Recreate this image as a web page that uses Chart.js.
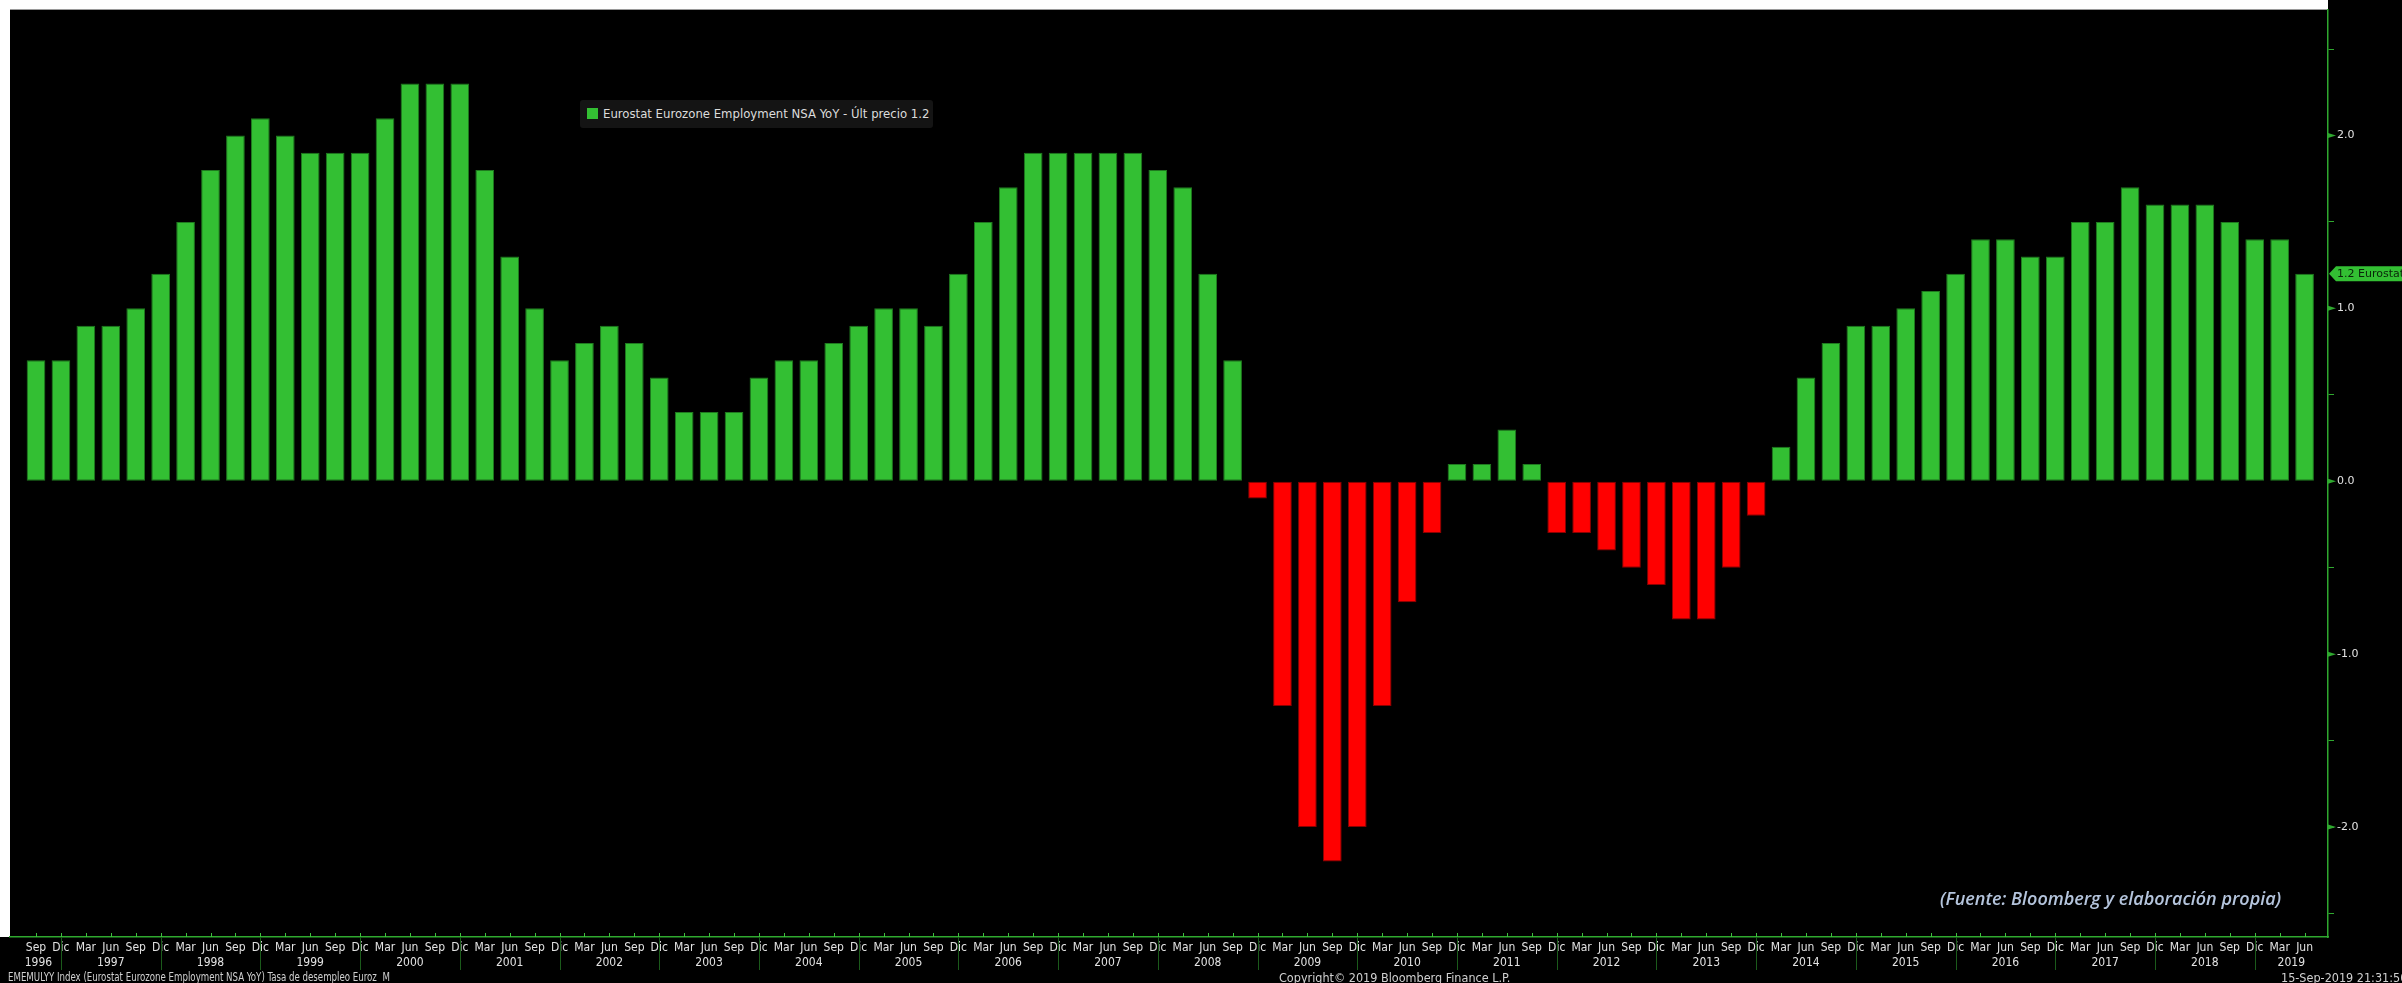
<!DOCTYPE html>
<html>
<head>
<meta charset="utf-8">
<script src="https://cdn.jsdelivr.net/npm/chart.js@4.4.1/dist/chart.umd.min.js"></script>
<style>
    html, body { margin: 0; padding: 0; background: #000; overflow: hidden; }
    #wrap { position: relative; width: 2402px; height: 983px; }
    #chart { position: absolute; left: 0; top: 0; }
    .narrow { font-family: "Liberation Sans Narrow", "DejaVu Sans Condensed", "Liberation Sans", sans-serif; }
    #legend {
        position: absolute; left: 580px; top: 100px; width: 353px; height: 28px;
        background: #141414; border-radius: 3px; color: #dcdcdc; font-size: 13px;
        line-height: 28px; white-space: nowrap;
    }
    #legend i { display: inline-block; width: 11px; height: 11px; background: #33bf33;
        margin: 0 5px 0 7px; vertical-align: -1px; }
    #source {
        position: absolute; left: 1940px; top: 886px; color: #b4c4dc;
        font: italic 600 18px "Open Sans", "Noto Sans", sans-serif; white-space: nowrap;
    }
    .foot { position: absolute; top: 970px; font-size: 12px; color: #d0d0d0; white-space: nowrap; }
    #ticker { transform: scaleX(0.8); transform-origin: left center; }
</style>
</head>
<body>
<div id="wrap">
    <canvas id="chart" width="2402" height="983"></canvas>
    <div id="legend" class="narrow"><i></i>Eurostat Eurozone Employment NSA YoY - Últ precio 1.2</div>
    <div id="source">(Fuente: Bloomberg y elaboración propia)</div>
    <div id="ticker" class="foot narrow" style="left:8px">EMEMULYY Index (Eurostat Eurozone Employment NSA YoY) Tasa de desempleo Euroz&nbsp; M</div>
    <div class="foot narrow" style="left:1279px; font-size:12.5px">Copyright© 2019 Bloomberg Finance L.P.</div>
    <div class="foot narrow" style="left:2281px; font-size:12.5px">15-Sep-2019 21:31:50</div>
</div>
<script>
// quarterly observations, Sep 1996 .. Jun 2019
const categories = [
    "Sep 1996", "Dic 1996",
    "Mar 1997", "Jun 1997", "Sep 1997", "Dic 1997",
    "Mar 1998", "Jun 1998", "Sep 1998", "Dic 1998",
    "Mar 1999", "Jun 1999", "Sep 1999", "Dic 1999",
    "Mar 2000", "Jun 2000", "Sep 2000", "Dic 2000",
    "Mar 2001", "Jun 2001", "Sep 2001", "Dic 2001",
    "Mar 2002", "Jun 2002", "Sep 2002", "Dic 2002",
    "Mar 2003", "Jun 2003", "Sep 2003", "Dic 2003",
    "Mar 2004", "Jun 2004", "Sep 2004", "Dic 2004",
    "Mar 2005", "Jun 2005", "Sep 2005", "Dic 2005",
    "Mar 2006", "Jun 2006", "Sep 2006", "Dic 2006",
    "Mar 2007", "Jun 2007", "Sep 2007", "Dic 2007",
    "Mar 2008", "Jun 2008", "Sep 2008", "Dic 2008",
    "Mar 2009", "Jun 2009", "Sep 2009", "Dic 2009",
    "Mar 2010", "Jun 2010", "Sep 2010", "Dic 2010",
    "Mar 2011", "Jun 2011", "Sep 2011", "Dic 2011",
    "Mar 2012", "Jun 2012", "Sep 2012", "Dic 2012",
    "Mar 2013", "Jun 2013", "Sep 2013", "Dic 2013",
    "Mar 2014", "Jun 2014", "Sep 2014", "Dic 2014",
    "Mar 2015", "Jun 2015", "Sep 2015", "Dic 2015",
    "Mar 2016", "Jun 2016", "Sep 2016", "Dic 2016",
    "Mar 2017", "Jun 2017", "Sep 2017", "Dic 2017",
    "Mar 2018", "Jun 2018", "Sep 2018", "Dic 2018",
    "Mar 2019", "Jun 2019",
];

const employmentYoY = [
    0.7, 0.7,
    0.9, 0.9, 1.0, 1.2,
    1.5, 1.8, 2.0, 2.1,
    2.0, 1.9, 1.9, 1.9,
    2.1, 2.3, 2.3, 2.3,
    1.8, 1.3, 1.0, 0.7,
    0.8, 0.9, 0.8, 0.6,
    0.4, 0.4, 0.4, 0.6,
    0.7, 0.7, 0.8, 0.9,
    1.0, 1.0, 0.9, 1.2,
    1.5, 1.7, 1.9, 1.9,
    1.9, 1.9, 1.9, 1.8,
    1.7, 1.2, 0.7, -0.1,
    -1.3, -2.0, -2.2, -2.0,
    -1.3, -0.7, -0.3, 0.1,
    0.1, 0.3, 0.1, -0.3,
    -0.3, -0.4, -0.5, -0.6,
    -0.8, -0.8, -0.5, -0.2,
    0.2, 0.6, 0.8, 0.9,
    0.9, 1.0, 1.1, 1.2,
    1.4, 1.4, 1.3, 1.3,
    1.5, 1.5, 1.7, 1.6,
    1.6, 1.6, 1.5, 1.4,
    1.4, 1.2,
];

const seriesName = "Eurostat";

const GREEN = "#33bf33";
const GREEN_EDGE = "#1f7a1f";
const RED = "#ff0000";
const RED_EDGE = "#8a0000";
const AXIS_GREEN = "#2fa82f";
const SEP_GREEN = "#1b5a1b";
const LABEL = "#e2e2e2";
const NARROW = '"Liberation Sans Narrow", "DejaVu Sans Condensed", "Liberation Sans", sans-serif';

const monthOf = (i) => (categories[i] || "").split(" ")[0];
const yearOf = (i) => (categories[i] || "").split(" ")[1];

// background, axis decorations, year row and last-value tag
const bloombergFrame = {
    id: "bloombergFrame",
    beforeDraw(chart) {
        const { ctx, chartArea: a, width, height } = chart;
        ctx.save();
        ctx.fillStyle = "#000";
        ctx.fillRect(0, 0, width, height);
        ctx.fillStyle = "#fff";
        ctx.fillRect(0, 0, a.right, a.top);
        ctx.fillRect(0, 0, a.left, a.bottom);
        ctx.restore();
    },
    afterDraw(chart) {
        const { ctx, chartArea: a, scales } = chart;
        const x = scales.x;
        const y = scales.y;
        ctx.save();

        // small ticks above the bottom axis
        ctx.strokeStyle = "#3fc03f";
        ctx.lineWidth = 1;
        categories.forEach((c, i) => {
            const px = Math.round(x.getPixelForValue(i)) + 0.5;
            ctx.beginPath();
            ctx.moveTo(px, a.bottom - 4);
            ctx.lineTo(px, a.bottom);
            ctx.stroke();
        });

        // year separators at each December and year labels
        const years = [...new Set(categories.map((c, i) => yearOf(i)))];
        ctx.font = "12px " + NARROW;
        ctx.fillStyle = LABEL;
        ctx.textAlign = "center";
        ctx.textBaseline = "middle";
        ctx.strokeStyle = SEP_GREEN;
        years.forEach((yr) => {
            const idx = categories.map((c, i) => i).filter((i) => yearOf(i) === yr);
            const last = idx[idx.length - 1];
            const endVal = monthOf(last) === "Dic" ? last : last + (categories.length - last + 1);
            const startVal = endVal - 4;
            const left = Math.max(x.getPixelForValue(startVal), a.left + 6);
            const right = Math.min(x.getPixelForValue(endVal), a.right);
            if (monthOf(last) === "Dic") {
                const px = Math.round(x.getPixelForValue(last)) + 0.5;
                ctx.beginPath();
                ctx.moveTo(px, a.bottom);
                ctx.lineTo(px, a.bottom + 33);
                ctx.stroke();
            }
            ctx.fillText(yr, (left + right) / 2, a.bottom + 26);
        });

        // arrow heads on the major y ticks
        ctx.fillStyle = AXIS_GREEN;
        y.ticks.forEach((t) => {
            if (Math.abs(t.value % 1) > 1e-9) return;
            const py = y.getPixelForValue(t.value);
            ctx.beginPath();
            ctx.moveTo(a.right, py - 2.5);
            ctx.lineTo(a.right + 8, py);
            ctx.lineTo(a.right, py + 2.5);
            ctx.closePath();
            ctx.fill();
        });

        // last value tag on the right axis
        const lastVal = employmentYoY[employmentYoY.length - 1];
        const ty = y.getPixelForValue(lastVal);
        ctx.fillStyle = GREEN;
        ctx.beginPath();
        ctx.moveTo(a.right + 1, ty);
        ctx.lineTo(a.right + 8, ty - 7.5);
        ctx.lineTo(chart.width + 2, ty - 7.5);
        ctx.lineTo(chart.width + 2, ty + 7.5);
        ctx.lineTo(a.right + 8, ty + 7.5);
        ctx.closePath();
        ctx.fill();
        ctx.fillStyle = "#0a250a";
        ctx.font = "11px 'DejaVu Sans'";
        ctx.textAlign = "left";
        ctx.fillText(lastVal.toFixed(1) + " " + seriesName, a.right + 9, ty + 0.5);

        ctx.restore();
    },
};

const ctx = document.getElementById("chart").getContext("2d");

new Chart(ctx, {
    type: "bar",
    data: {
        datasets: [
            {
                label: "Eurostat Eurozone Employment NSA YoY",
                data: employmentYoY.map((v, i) => ({ x: i, y: v })),
                backgroundColor: (c) => ((c.raw && c.raw.y < 0) ? RED : GREEN),
                borderColor: (c) => ((c.raw && c.raw.y < 0) ? RED_EDGE : GREEN_EDGE),
                borderWidth: 1,
                borderSkipped: false,
                barPercentage: 0.75,
                categoryPercentage: 1,
            },
        ],
    },
    options: {
        responsive: false,
        animation: false,
        layout: { padding: { left: 10, top: 9, right: 0, bottom: 0 } },
        plugins: {
            legend: { display: false },
            tooltip: { enabled: false },
        },
        scales: {
            x: {
                type: "linear",
                offset: false,
                min: -1.043,
                max: 91.94,
                afterBuildTicks: (s) => {
                    s.ticks = categories.map((c, i) => ({ value: i }));
                },
                afterFit: (s) => {
                    s.height = 46;
                },
                ticks: {
                    autoSkip: false,
                    maxRotation: 0,
                    minRotation: 0,
                    padding: 4,
                    color: LABEL,
                    font: { family: NARROW, size: 12 },
                    callback: (v) => monthOf(v),
                },
                grid: { offset: false, drawOnChartArea: false, drawTicks: false },
                border: { color: AXIS_GREEN, width: 1.5 },
            },
            y: {
                position: "right",
                min: -2.636,
                max: 2.728,
                afterFit: (s) => {
                    s.width = 74;
                },
                ticks: {
                    stepSize: 0.5,
                    includeBounds: false,
                    padding: 3,
                    color: LABEL,
                    font: { family: "DejaVu Sans", size: 11 },
                    callback: (v) => (Math.abs(v % 1) > 1e-9 ? "" : Number(v).toFixed(1)),
                },
                grid: {
                    drawOnChartArea: false,
                    color: AXIS_GREEN,
                    tickLength: 6,
                    tickWidth: 1,
                },
                border: { color: AXIS_GREEN, width: 1.5 },
            },
        },
    },
    plugins: [bloombergFrame],
});
</script>
</body>
</html>
